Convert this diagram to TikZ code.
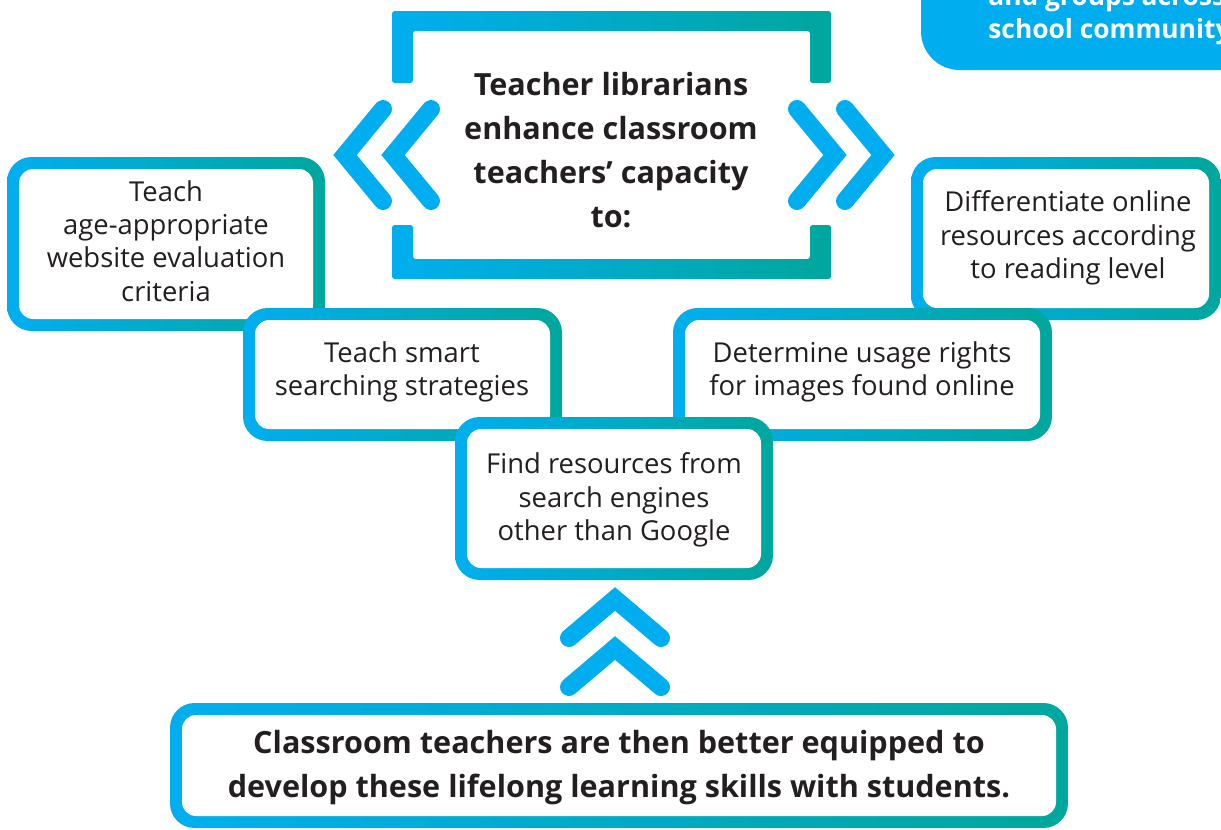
\documentclass[tikz,border=0pt]{standalone}
\usepackage{fontspec}
\setmainfont{Open Sans}
\definecolor{libcyan}{HTML}{00AEEF}
\definecolor{libteal}{HTML}{00A79D}
\definecolor{inkdark}{HTML}{231F20}
\tikzset{
	chevron/.style={libcyan, line width=0.36cm, line cap=round},
	boxtext/.style={inkdark, align=center, inner sep=0pt, font=\fontsize{15.6}{19}\selectfont},
	headtext/.style={inkdark, align=center, inner sep=0pt, font=\bfseries\fontsize{17.4}{25}\selectfont},
}
% box with a cyan-to-teal border: corners (#1,#2), (#3,#4), border #5
\newcommand{\gradbox}[5]{%
	\shade[left color=libcyan, right color=libteal, rounded corners=14pt] (#1,#2) rectangle (#3,#4);
	\fill[white, rounded corners=8pt] (#1+#5,#2+#5) rectangle (#3-#5,#4-#5);
}

\begin{document}
\begin{tikzpicture}[x=0.02cm, y=-0.02cm]
	\useasboundingbox (0,0) rectangle (1221,829);
	\clip (0,0) rectangle (1221,829);
	
	% Corner Tab
	\fill[libcyan, rounded corners=22pt] (921,-60) rectangle (1260,70);
	\node[white, align=left, anchor=west, inner sep=0pt, font=\bfseries\fontsize{15}{18.5}\selectfont] (community) at (988,15) {and groups across\\school community};
	
	% Main Bracket
	\shade[left color=libcyan, right color=libteal, rounded corners=1.5pt]
		(392,11) -- (831,11) -- (831,83) -- (810,83) -- (810,31) -- (413,31) -- (413,83) -- (392,83) -- cycle
		(392,225) -- (413,225) -- (413,259) -- (810,259) -- (810,225) -- (831,225) -- (831,279) -- (392,279) -- cycle;
	\node[headtext] (capacity) at (611,150) {Teacher librarians\\enhance classroom\\teachers’ capacity\\to:};
	
	% Side Chevrons
	\foreach \dx in {0,48}
	{
		\draw[chevron] (383+\dx,109) -- (345+\dx,155) -- (383+\dx,201);
		\draw[chevron] (797+\dx,109) -- (835+\dx,155) -- (797+\dx,201);
	}
	
	% Skill Boxes
	\gradbox{7}{157}{325}{331}{12}
	\node[boxtext] (evaluation) at (166,241) {Teach\\age-appropriate\\website evaluation\\criteria};
	
	\gradbox{243}{308}{562}{441}{12}
	\node[boxtext] (searching) at (402,372) {Teach smart\\searching strategies};
	
	\gradbox{911}{157}{1221}{320}{12}
	\node[boxtext] (differentiate) at (1068,238) {Differentiate online\\resources according\\to reading level};
	
	\gradbox{673}{308}{1052}{441}{12}
	\node[boxtext] (rights) at (862,372) {Determine usage rights\\for images found online};
	
	\gradbox{455}{417}{773}{580}{12}
	\node[boxtext] (engines) at (614,500) {Find resources from\\search engines\\other than Google};
	
	% Up Chevrons
	\foreach \dy in {0,49}
		\draw[chevron] (569,638+\dy) -- (615,599+\dy) -- (661,638+\dy);
	
	% Outcome Box
	\gradbox{170}{703}{1068}{828}{12}
	\node[headtext] (equipped) at (619,768) {Classroom teachers are then better equipped to\\develop these lifelong learning skills with students.};
\end{tikzpicture}
\end{document}
